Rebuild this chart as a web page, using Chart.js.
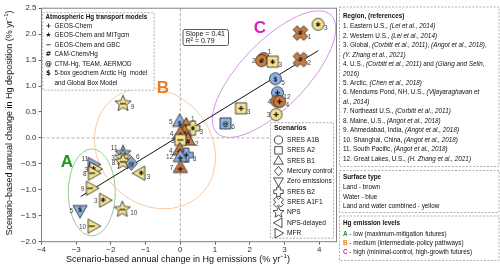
<!DOCTYPE html>
<html>
<head>
<meta charset="utf-8">
<script src="https://cdn.jsdelivr.net/npm/chart.js@4.4.0/dist/chart.umd.min.js"></script>
<style>
html, body { margin: 0; padding: 0; background: #fff; }
canvas { display: block; }
</style>
</head>
<body>
<canvas id="hg-chart" width="500" height="270"></canvas>
<script>
// ==================== DATA ====================
const xTicks = [-4, -3, -2, -1, 0, 1, 2, 3, 4];
const yTicks = [-2.0, -1.5, -1.0, -0.5, 0.0, 0.5, 1.0, 1.5, 2.0, 2.5];

// annual change in Hg emissions (% yr-1)
const emissionChange = [3.97, 3.46, 3.46, 2.40, 2.34, 2.66, 2.74, 2.80, 2.78, 2.86, 2.76, 1.75, 1.30,
    -1.65, -1.65, -1.66, -1.65, -1.41, -1.17, -0.02, 0.17, 0.36, 0.12, 0.00, 0.22, 0.00, -0.02, 0.17, 0.00, 0.00,
    -2.51, -2.46, -2.50, -2.56, -2.18, -2.89, -2.51, -1.67];
// annual change in Hg deposition (% yr-1)
const depositionChange = [2.19, 2.02, 1.51, 1.53, 1.49, 1.47, 1.14, 0.87, 0.71, 0.70, 0.45, 0.57, 0.28,
    0.66, -0.30, -0.38, -0.46, -0.49, -0.68, 0.32, 0.25, 0.19, 0.12, 0.09, -0.04, -0.04, -0.23, -0.33, -0.36, -0.57,
    -0.51, -0.60, -0.68, -0.97, -1.20, -1.40, -1.70, -1.38];
const pointScenario = ['A1B', 'A1F1', 'A1F1', 'A1B', 'A1B', 'A2', 'A1B', 'A1B', 'A1B', 'A1B', 'A1B', 'A2', 'A2',
    'NPS', 'NPS', 'NPS', 'NPS', 'CTRL', 'NPSD', 'B1', 'B1', 'B2', 'B1', 'B1', 'B1', 'A2', 'B1', 'B2', 'B1', 'B1',
    'MFR', 'MFR', 'MFR', 'MFR', 'MFR', 'ZERO', 'MFR', 'NPS'];
// land / water / both
const pointSurface = ['both', 'land', 'land', 'land', 'land', 'both', 'water', 'water', 'land', 'land', 'both', 'both', 'water',
    'both', 'water', 'both', 'both', 'water', 'both', 'water', 'land', 'both', 'land', 'land', 'land', 'both', 'land', 'water', 'water', 'land',
    'water', 'both', 'both', 'both', 'both', 'water', 'both', 'both'];
const pointModel = ['*', '#', '#', '#', '#', '*', '$', '+', '+', '+', '+', '+', '@',
    '-', '-', '*', '-', '@', '*', '$', '#', '*', '#', '+', '#', '-', '+', '+', '+', '+',
    '-', '*', '-', '-', '*', '$', '-', '-'];
const pointRegion = ['3', '1', '2', '1', '2', '3', '5', '12', '4', '4', '3', '3', '6',
    '9', '11', '3', '8', '6', '3', '5', '1', '3', '', '4', '2', '3', '4', '8', '12', '7',
    '11', '3', '8', '9', '3', '5', '10', '10'];
const labelSide = ['r', 'r', 'r', 'tr', 'l', 'r', 'r', 'r', 'l', 'r', 'l', 'r', 'r',
    'r', 'tl', 'l', 'l', 'tr', 'r', 'l', 'tr', 'r', 'n', 'l', 'r', 'l', 'l', 'r', 'l', 'l',
    'tl', 'l', 'l', 'l', 'l', 'l', 'l', 'r'];

// regression line end points
const fitX = [-2.87, 3.97];
const fitY = [-1.13, 1.68];
const fitText = ['Slope = 0.41', '= 0.79'];

const scenarioKeys = ['A1B', 'A2', 'B1', 'CTRL', 'ZERO', 'B2', 'A1F1', 'NPS', 'NPSD', 'MFR'];
const scenarioNames = ['SRES A1B', 'SRES A2', 'SRES B1', 'Mercury control', 'Zero emissions', 'SRES B2', 'SRES A1F1', 'NPS', 'NPS-delayed', 'MFR'];
const scenarioShapes = ['circle', 'square', 'tri', 'diamond', 'tridown', 'plus', 'xcross', 'star', 'trileft', 'triright'];

const modelGlyphs = ['+', '★', '−', '#', '@', '$', ''];
const modelNames = ['GEOS-Chem', 'GEOS-Chem and MITgcm', 'GEOS-Chem and GBC', 'CAM-Chem/Hg', 'CTM-Hg, TEAM, AERMOD',
    '5-box geochem Arctic Hg  model', 'and Global Box Model'];

const regionLines = [
    [['1. Eastern U.S., ', 0], ['(Lei et al., 2014)', 1]],
    [['2. Western U.S., ', 0], ['(Lei et al., 2014)', 1]],
    [['3. Global, ', 0], ['(Corbitt et al., 2011)', 1], [', ', 0], ['(Angot et al., 2018)', 1], [',', 0]],
    [['(Y. Zhang et al., 2021)', 1]],
    [['4. U.S., ', 0], ['(Corbitt et al., 2011)', 1], [' and ', 0], ['(Giang and Selin,', 1]],
    [['2016)', 1]],
    [['5. Arctic, ', 0], ['(Chen et al., 2018)', 1]],
    [['6. Mendums Pond, NH, U.S., ', 0], ['(Vijayaraghavan et', 1]],
    [['al., 2014)', 1]],
    [['7. Northeast U.S., ', 0], ['(Corbitt et al., 2011)', 1]],
    [['8. Maine, U.S., ', 0], ['(Angot et al., 2018)', 1]],
    [['9. Ahmedabad, India, ', 0], ['(Angot et al., 2018)', 1]],
    [['10. Shanghai, China, ', 0], ['(Angot et al., 2018)', 1]],
    [['11. South Pacific, ', 0], ['(Angot et al., 2018)', 1]],
    [['12. Great Lakes, U.S., ', 0], ['(H. Zhang et al., 2021)', 1]]
];
const surfaceLines = ['Land - brown', 'Water - blue', 'Land and water combined - yellow'];
const levelLetters = ['A', 'B', 'C'];
const levelLines = [' - low (maximum-mitigation futures)', ' - medium (intermediate-policy pathways)', ' - high (minimal-control, high-growth futures)'];

// group ellipses: centre in data units
const groupCenterX = [-2.55, -0.73, 2.7];
const groupCenterY = [-1.05, -0.2, 1.23];

// ==================== STYLE ====================
const FONT = 'Liberation Sans, Arial, sans-serif';
const surfaceColors = { land: '#c97b43', water: '#8cb2e4', both: '#f6e38e' };
const levelColors = ['#1e9a1e', '#f07a22', '#d61fc8'];
const ellipseColors = ['#8fd08f', '#f9c9a2', '#d596e3'];
const ellipseShape = [[23.5, 43.5, 0], [65, 56, 45], [82, 33, -46]]; // rx, ry (px), rotation (deg)
const letterPos = [[-3.27, -0.47], [-0.5, 0.96], [2.29, 2.12]];

const shapeRadius = { circle: 6, square: 6, tri: 7.5, tridown: 7.5, trileft: 7.5, triright: 7.5, diamond: 7, plus: 7, xcross: 7.5, star: 8.5 };

function shapeOf(key) {
    return scenarioShapes[scenarioKeys.indexOf(key)];
}

function tracarForma(ctx, shape, r) {
    ctx.beginPath();
    if (shape === 'circle') {
        ctx.arc(0, 0, r, 0, Math.PI * 2);
        return;
    }
    let pts = [];
    if (shape === 'square') {
        const s = r * 0.92;
        pts = [[-s, -s], [s, -s], [s, s], [-s, s]];
    } else if (shape.startsWith('tri')) {
        const rot = { tri: 0, triright: Math.PI / 2, tridown: Math.PI, trileft: -Math.PI / 2 }[shape];
        pts = [[0, -r], [r * 0.95, r * 0.68], [-r * 0.95, r * 0.68]].map(([x, y]) =>
            [x * Math.cos(rot) - y * Math.sin(rot), x * Math.sin(rot) + y * Math.cos(rot)]);
    } else if (shape === 'diamond') {
        pts = [[0, -r], [r * 0.85, 0], [0, r], [-r * 0.85, 0]];
    } else if (shape === 'star') {
        for (let i = 0; i < 10; i++) {
            const a = -Math.PI / 2 + i * Math.PI / 5;
            const rr = i % 2 === 0 ? r : r * 0.45;
            pts.push([rr * Math.cos(a), rr * Math.sin(a)]);
        }
    } else {
        const w = r * 0.38;
        pts = [[-w, -r], [w, -r], [w, -w], [r, -w], [r, w], [w, w], [w, r], [-w, r], [-w, w], [-r, w], [-r, -w], [-w, -w]];
        if (shape === 'xcross') {
            const c = Math.SQRT1_2;
            pts = pts.map(([x, y]) => [(x - y) * c, (x + y) * c]);
        }
    }
    pts.forEach(([x, y], i) => i === 0 ? ctx.moveTo(x, y) : ctx.lineTo(x, y));
    ctx.closePath();
}

function desenharGlifo(ctx, glyph) {
    ctx.fillStyle = '#111';
    if (glyph === '+') {
        ctx.fillRect(-2.6, -0.6, 5.2, 1.2);
        ctx.fillRect(-0.6, -2.6, 1.2, 5.2);
    } else if (glyph === '-') {
        ctx.fillRect(-3, -0.6, 6, 1.2);
    } else if (glyph) {
        ctx.font = glyph === '*' ? 'bold 6.5px DejaVu Sans' : 'bold 6.5px DejaVu Sans';
        ctx.textAlign = 'center';
        ctx.textBaseline = 'middle';
        ctx.fillText(glyph === '*' ? '✱' : glyph, 0, 0.5);
    }
}

const markerCache = {};
function criarMarcador(shape, fill, glyph) {
    const key = shape + fill + glyph;
    if (markerCache[key]) return markerCache[key];
    const r = shapeRadius[shape];
    const size = Math.ceil(2 * r + 3);
    const cv = document.createElement('canvas');
    cv.width = size;
    cv.height = size;
    const ctx = cv.getContext('2d');
    ctx.translate(size / 2, size / 2);
    tracarForma(ctx, shape, r);
    ctx.fillStyle = fill;
    ctx.fill();
    ctx.lineWidth = 0.8;
    ctx.strokeStyle = '#222';
    ctx.lineJoin = 'round';
    ctx.stroke();
    const off = { tri: [0, r * 0.2], tridown: [0, -r * 0.2], triright: [-r * 0.2, 0], trileft: [r * 0.2, 0] }[shape] || [0, 0];
    ctx.translate(off[0], off[1]);
    desenharGlifo(ctx, glyph);
    markerCache[key] = cv;
    return cv;
}

function desenharSegmentos(ctx, segs, x, y, size) {
    segs.forEach(([text, italic]) => {
        ctx.font = (italic ? 'italic ' : '') + size + 'px ' + FONT;
        ctx.fillText(text, x, y);
        x += ctx.measureText(text).width;
    });
}

function caixaTracejada(ctx, x, y, w, h) {
    ctx.save();
    ctx.setLineDash([2, 1.5]);
    ctx.strokeStyle = '#9a9a9a';
    ctx.lineWidth = 0.8;
    ctx.fillStyle = '#fff';
    ctx.fillRect(x, y, w, h);
    ctx.strokeRect(x, y, w, h);
    ctx.restore();
}

// ==================== PLUGIN ====================
const decoracoes = {
    id: 'decoracoes',
    beforeDatasetsDraw(chart) {
        const { ctx, chartArea: a, scales: { x, y } } = chart;
        ctx.save();
        // zero lines
        ctx.setLineDash([3, 2]);
        ctx.strokeStyle = '#9a9a9a';
        ctx.lineWidth = 0.8;
        ctx.beginPath();
        ctx.moveTo(x.getPixelForValue(0), a.top);
        ctx.lineTo(x.getPixelForValue(0), a.bottom);
        ctx.moveTo(a.left, y.getPixelForValue(0));
        ctx.lineTo(a.right, y.getPixelForValue(0));
        ctx.stroke();
        ctx.setLineDash([]);
        // group ellipses
        groupCenterX.forEach((cx, i) => {
            const [rx, ry, rot] = ellipseShape[i];
            ctx.beginPath();
            ctx.ellipse(x.getPixelForValue(cx), y.getPixelForValue(groupCenterY[i]), rx, ry, rot * Math.PI / 180, 0, Math.PI * 2);
            ctx.strokeStyle = ellipseColors[i];
            ctx.lineWidth = 1;
            ctx.stroke();
        });
        // group letters
        ctx.font = 'bold 17px ' + FONT;
        ctx.textAlign = 'center';
        ctx.textBaseline = 'middle';
        levelLetters.forEach((l, i) => {
            ctx.fillStyle = levelColors[i];
            ctx.fillText(l, x.getPixelForValue(letterPos[i][0]), y.getPixelForValue(letterPos[i][1]));
        });
        ctx.restore();
    },
    afterDatasetsDraw(chart) {
        const { ctx, chartArea: a } = chart;
        const meta = chart.getDatasetMeta(1);
        ctx.save();
        // point labels
        ctx.font = '6.5px ' + FONT;
        ctx.fillStyle = '#444';
        ctx.textBaseline = 'middle';
        meta.data.forEach((pt, i) => {
            const side = labelSide[i];
            if (side === 'n') return;
            const r = shapeRadius[shapeOf(pointScenario[i])] * 0.8 + 1;
            let dx = r, dy = 4;
            if (side === 'l') { dx = -r; dy = 1; }
            if (side === 'tr') { dx = r * 0.7; dy = -6; }
            if (side === 'tl') { dx = -r * 0.7; dy = -5; }
            ctx.textAlign = dx < 0 ? 'right' : 'left';
            ctx.fillText(pointRegion[i], pt.x + dx, pt.y + dy);
        });

        // frame
        ctx.strokeStyle = '#808080';
        ctx.lineWidth = 1;
        ctx.strokeRect(a.left, a.top, a.right - a.left, a.bottom - a.top);

        // slope box
        ctx.beginPath();
        ctx.roundRect(183, 29.5, 45.5, 16, 2);
        ctx.fillStyle = '#fff';
        ctx.fill();
        ctx.strokeStyle = '#333';
        ctx.lineWidth = 0.8;
        ctx.stroke();
        ctx.fillStyle = '#111';
        ctx.textAlign = 'left';
        ctx.font = '7px ' + FONT;
        ctx.fillText(fitText[0], 185.5, 34.5);
        ctx.font = 'italic 7px ' + FONT;
        ctx.fillText('R', 185.5, 41.5);
        ctx.font = '4.8px ' + FONT;
        ctx.fillText('2', 190.5, 39.5);
        ctx.font = '7px ' + FONT;
        ctx.fillText(' ' + fitText[1], 193, 41.5);

        // model legend
        caixaTracejada(ctx, 42.7, 12.7, 111.5, 77.5);
        ctx.fillStyle = '#111';
        ctx.font = 'bold 6.3px ' + FONT;
        ctx.fillText('Atmospheric Hg transport models', 45.5, 17);
        modelNames.forEach((name, i) => {
            const yy = 26 + 9.5 * i;
            ctx.font = 'bold 7px DejaVu Sans';
            ctx.textAlign = 'center';
            ctx.fillText(modelGlyphs[i], 48.5, yy);
            ctx.textAlign = 'left';
            ctx.font = '6.4px ' + FONT;
            ctx.fillText(name, 54.5, yy);
        });

        // scenario legend
        caixaTracejada(ctx, 270.5, 122.7, 63, 115.5);
        ctx.fillStyle = '#111';
        ctx.font = 'bold 6.8px ' + FONT;
        ctx.fillText('Scenarios', 274, 128.5);
        scenarioNames.forEach((name, i) => {
            const yy = 140 + 10.35 * i;
            ctx.save();
            ctx.translate(278.5, yy);
            tracarForma(ctx, scenarioShapes[i], shapeRadius[scenarioShapes[i]] * 0.68);
            ctx.fillStyle = '#fff';
            ctx.fill();
            ctx.strokeStyle = '#222';
            ctx.lineWidth = 0.8;
            ctx.stroke();
            ctx.restore();
            ctx.fillStyle = '#111';
            ctx.font = '6.6px ' + FONT;
            ctx.fillText(name, 287, yy);
        });

        // axis titles
        const sup = (text, xx, yy, align) => {
            const main = text;
            ctx.font = '9px ' + FONT;
            const w1 = ctx.measureText(main).width;
            ctx.font = '6px ' + FONT;
            const w2 = ctx.measureText('−1').width;
            ctx.font = '9px ' + FONT;
            const w3 = ctx.measureText(')').width;
            let sx = xx - (w1 + w2 + w3) / 2;
            ctx.fillText(main, sx, yy);
            ctx.font = '6px ' + FONT;
            ctx.fillText('−1', sx + w1, yy - 3.5);
            ctx.font = '9px ' + FONT;
            ctx.fillText(')', sx + w1 + w2, yy);
        };
        ctx.fillStyle = '#111';
        ctx.textAlign = 'left';
        sup('Scenario-based annual change in Hg emissions (% yr', 178, 260);
        ctx.save();
        ctx.translate(10, 123);
        ctx.rotate(-Math.PI / 2);
        sup('Scenario-based annual change in Hg deposition (% yr', 0, 0);
        ctx.restore();
        ctx.restore();
    },
    afterDraw(chart) {
        const { ctx } = chart;
        ctx.save();
        ctx.textBaseline = 'middle';
        ctx.textAlign = 'left';
        const fs = 6.35;
        // region box
        caixaTracejada(ctx, 339.5, 7, 159.5, 159.5);
        ctx.fillStyle = '#111';
        ctx.font = 'bold ' + fs + 'px ' + FONT;
        ctx.fillText('Region, (references)', 343, 16);
        regionLines.forEach((segs, i) => desenharSegmentos(ctx, segs, 343, 26.5 + 9.45 * i, fs));
        // surface box
        caixaTracejada(ctx, 339.5, 170.5, 159.5, 42);
        ctx.font = 'bold ' + fs + 'px ' + FONT;
        ctx.fillText('Surface type', 343, 177.5);
        ctx.font = fs + 'px ' + FONT;
        surfaceLines.forEach((t, i) => ctx.fillText(t, 343, 187.3 + 9.6 * i));
        // emission level box
        caixaTracejada(ctx, 339.5, 216, 159.5, 44.5);
        ctx.font = 'bold ' + fs + 'px ' + FONT;
        ctx.fillText('Hg emission levels', 343, 223.3);
        levelLines.forEach((t, i) => {
            const yy = 233.8 + 9.4 * i;
            ctx.font = 'bold ' + fs + 'px ' + FONT;
            ctx.fillStyle = levelColors[i];
            ctx.fillText(levelLetters[i], 343, yy);
            const w = ctx.measureText(levelLetters[i]).width;
            ctx.font = fs + 'px ' + FONT;
            ctx.fillStyle = '#111';
            ctx.fillText(t, 343 + w, yy);
        });
        ctx.restore();
    }
};

// ==================== CHART ====================
function renderizarGrafico() {
    const ctx = document.getElementById('hg-chart');
    const pontos = emissionChange.map((v, i) => ({ x: v, y: depositionChange[i] }));
    const estilos = pontos.map((p, i) =>
        criarMarcador(shapeOf(pointScenario[i]), surfaceColors[pointSurface[i]], pointModel[i]));

    new Chart(ctx, {
        type: 'scatter',
        data: {
            datasets: [
                {
                    type: 'line',
                    data: fitX.map((v, i) => ({ x: v, y: fitY[i] })),
                    borderColor: '#111',
                    borderWidth: 1,
                    pointRadius: 0,
                    showLine: true,
                    order: 2
                },
                {
                    data: pontos,
                    pointStyle: estilos,
                    pointRadius: 6,
                    order: 1
                }
            ]
        },
        options: {
            responsive: false,
            animation: false,
            devicePixelRatio: 1,
            events: [],
            layout: {
                padding: { top: 8.2, right: 163.5, left: 0, bottom: 0 }
            },
            plugins: {
                legend: { display: false },
                tooltip: { enabled: false }
            },
            scales: {
                x: {
                    type: 'linear',
                    min: -4,
                    max: 4.5,
                    afterBuildTicks: s => { s.ticks = xTicks.map(v => ({ value: v })); },
                    afterFit: s => { s.height = 28.3; },
                    ticks: {
                        color: '#333',
                        padding: 0,
                        font: { size: 8, family: FONT },
                        maxRotation: 0,
                        callback: v => String(v).replace('-', '\u2212')
                    },
                    grid: { display: true, drawOnChartArea: false, drawTicks: true, tickLength: 3, color: '#666' },
                    border: { display: false }
                },
                y: {
                    type: 'linear',
                    min: -2,
                    max: 2.5,
                    afterBuildTicks: s => { s.ticks = yTicks.map(v => ({ value: v })); },
                    afterFit: s => { s.width = 41.5; },
                    ticks: {
                        color: '#333',
                        padding: 2,
                        font: { size: 8, family: FONT },
                        callback: v => v.toFixed(1).replace('-', '\u2212')
                    },
                    grid: { display: true, drawOnChartArea: false, drawTicks: true, tickLength: 3, color: '#666' },
                    border: { display: false }
                }
            }
        },
        plugins: [decoracoes]
    });
}

renderizarGrafico();
</script>
</body>
</html>
